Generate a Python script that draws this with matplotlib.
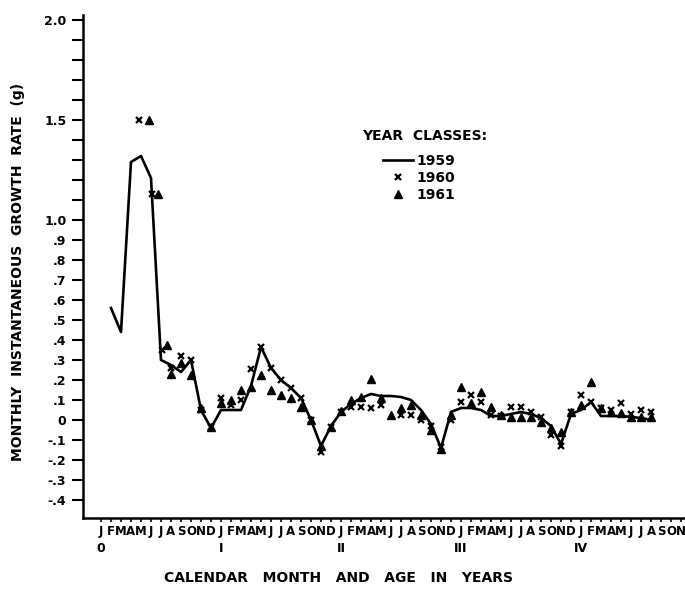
import matplotlib
matplotlib.use("Agg")
import matplotlib.pyplot as plt
import matplotlib.transforms as mtransforms
import numpy as np

plt.rcParams['font.family'] = ['DejaVu Sans']
plt.rcParams['font.weight'] = 'bold'

# month index: 0 = January of age 0
months_1959 = [1, 2, 3, 4, 5, 6, 7, 8, 9, 10, 11,
               12, 13, 14, 15, 16, 17, 18, 19, 20, 21, 22, 23,
               24, 25, 26, 27, 28, 29, 30, 31, 32, 33, 34, 35,
               36, 37, 38, 39, 40, 41, 42, 43, 44, 45, 46, 47,
               48, 49, 50, 51, 52, 53, 54, 55]
rate_1959 = [0.56, 0.44, 1.29, 1.32, 1.21, 0.30, 0.275, 0.24, 0.30, 0.05, -0.04,
             0.05, 0.05, 0.05, 0.17, 0.365, 0.26, 0.20, 0.16, 0.11, 0.0, -0.13, -0.03,
             0.04, 0.08, 0.11, 0.13, 0.12, 0.12, 0.115, 0.10, 0.05, -0.02, -0.14, 0.04,
             0.06, 0.06, 0.05, 0.02, 0.02, 0.03, 0.04, 0.03, 0.01, -0.03, -0.12, 0.03,
             0.05, 0.09, 0.02, 0.02, 0.02, 0.015, 0.01, 0.0]

months_1960 = [3.8, 5.1, 6.1, 7, 8, 9, 10, 11,
               12, 13, 14, 15, 16, 17, 18, 19, 20, 21, 22, 23,
               24, 25, 26, 27, 28, 30, 31, 32, 33, 34, 35,
               36, 37, 38, 39, 40, 41, 42, 43, 44, 45, 46, 47,
               48, 49, 50, 51, 52, 53, 54, 55]
rate_1960 = [1.50, 1.13, 0.35, 0.26, 0.32, 0.30, 0.05, -0.035,
             0.11, 0.075, 0.10, 0.255, 0.365, 0.26, 0.20, 0.16, 0.11, 0.0, -0.16, -0.035,
             0.04, 0.065, 0.065, 0.06, 0.075, 0.025, 0.025, 0.0, -0.03, -0.135, 0.0,
             0.09, 0.125, 0.09, 0.025, 0.02, 0.065, 0.065, 0.04, 0.017, -0.075, -0.13, 0.04,
             0.125, 0.09, 0.06, 0.05, 0.087, 0.03, 0.05, 0.04]

months_1961 = [4.8, 5.7, 6.6, 7, 8, 9, 10, 11,
               12, 13, 14, 15, 16, 17, 18, 19, 20, 21, 22, 23,
               24, 25, 26, 27, 28, 29, 30, 31, 32, 33, 34, 35,
               36, 37, 38, 39, 40, 41, 42, 43, 44, 45, 46, 47,
               48, 49, 50, 51, 52, 53, 54, 55]
rate_1961 = [1.50, 1.13, 0.375, 0.23, 0.285, 0.225, 0.06, -0.035,
             0.085, 0.10, 0.15, 0.165, 0.225, 0.15, 0.125, 0.11, 0.065, 0.0, -0.13, -0.035,
             0.045, 0.10, 0.115, 0.205, 0.11, 0.025, 0.06, 0.075, 0.025, -0.05, -0.145, 0.025,
             0.165, 0.085, 0.14, 0.065, 0.025, 0.017, 0.017, 0.017, -0.008, -0.04, -0.06, 0.04,
             0.075, 0.19, 0.06, 0.04, 0.035, 0.017, 0.017, 0.017]

month_letters = list("JFMAMJJASOND") * 4 + list("JFMAMJJASON")
age_labels = ["0", "I", "II", "III", "IV"]

y_ticks = np.round(np.arange(-0.4, 2.01, 0.1), 1)
y_labeled = {2.0: "2.0", 1.5: "1.5", 1.0: "1.0", 0.9: ".9", 0.8: ".8", 0.7: ".7",
             0.6: ".6", 0.5: ".5", 0.4: ".4", 0.3: ".3", 0.2: ".2", 0.1: ".1",
             0.0: "0", -0.1: "-.1", -0.2: "-.2", -0.3: "-.3", -0.4: "-.4"}

fig = plt.figure(figsize=(6.85, 5.91), dpi=100)
ax = fig.add_axes([83 / 685, 1 - 518 / 591, 601 / 685, 503 / 591])

line, = ax.plot(months_1959, rate_1959, color='black', lw=1.9, zorder=2)
tri, = ax.plot(months_1961, rate_1961, linestyle='none', marker='^', color='black',
               markersize=6, zorder=3)
xm, = ax.plot(months_1960, rate_1960, linestyle='none', marker='x', color='black',
              markersize=4.5, mew=1.6, zorder=4)

ax.set_xlim(-1.8, 58.3)
ax.set_ylim(-0.49, 2.025)

for s in ['top', 'right']:
    ax.spines[s].set_visible(False)
ax.spines['left'].set_linewidth(1.8)
ax.spines['bottom'].set_linewidth(1.8)

ax.set_xticks(range(len(month_letters)))
ax.set_xticklabels(month_letters, fontsize=8.5, fontweight='bold')
ax.tick_params(axis='x', length=3, width=1.2, pad=2)

ax.set_yticks(y_ticks)
ax.set_yticklabels([y_labeled.get(round(v, 1), "") for v in y_ticks],
                   fontsize=9, fontweight='bold')
ax.tick_params(axis='y', length=8, width=1.5, pad=4)

trans = mtransforms.blended_transform_factory(ax.transData, fig.transFigure)
for i, lab in enumerate(age_labels):
    ax.text(i * 12, 1 - 548 / 591, lab, transform=trans, ha='center', va='center',
            fontsize=9, fontweight='bold')

fig.text(339 / 685, 1 - 578 / 591, "CALENDAR   MONTH   AND   AGE   IN   YEARS",
         ha='center', va='center', fontsize=10, fontweight='bold')
fig.text(18 / 685, 1 - 272 / 591, "MONTHLY  INSTANTANEOUS  GROWTH  RATE  (g)",
         ha='center', va='center', rotation=90, fontsize=10, fontweight='bold')

# legend
fig.text(425 / 685, 1 - 136 / 591, "YEAR  CLASSES:", ha='center', va='center',
         fontsize=10, fontweight='bold')
leg = ax.legend([line, xm, tri], ["1959", "1960", "1961"],
                frameon=False, loc='upper left',
                bbox_to_anchor=(383 / 685, 1 - 154 / 591), bbox_transform=fig.transFigure,
                fontsize=10, handlelength=2.15, handletextpad=0.25,
                labelspacing=0.22, borderpad=0, borderaxespad=0)
for t in leg.get_texts():
    t.set_fontweight('bold')

fig.savefig("out.png", dpi=100)
